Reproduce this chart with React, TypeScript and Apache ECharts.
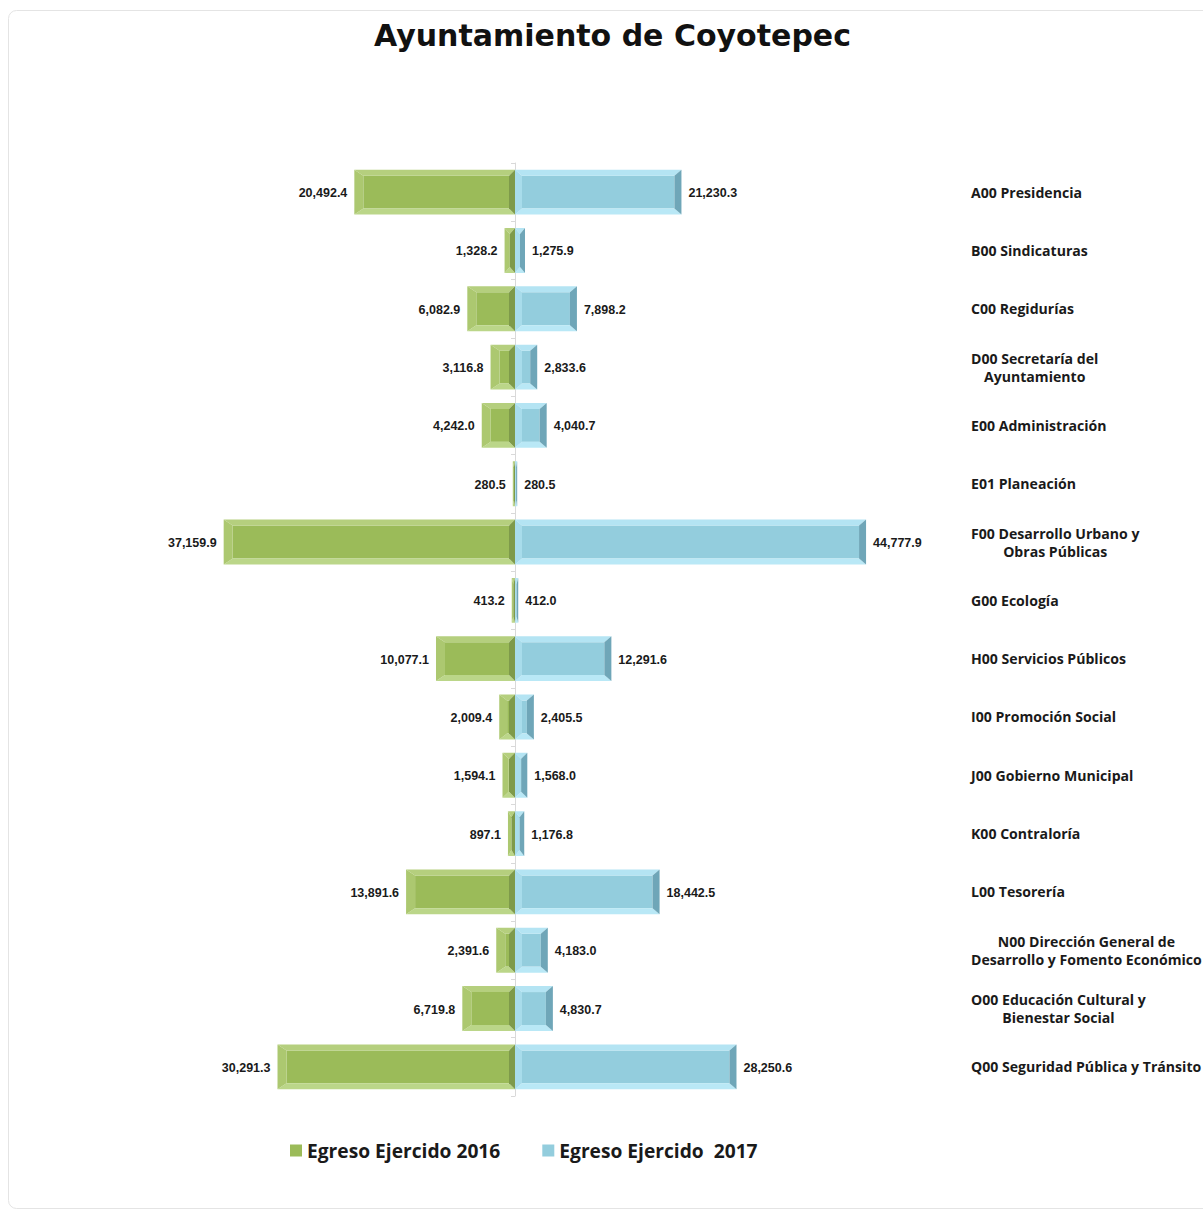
import React, { useEffect, useRef } from "react";
import * as echarts from "echarts";

const categories = [
  "A00 Presidencia",
  "B00 Sindicaturas",
  "C00 Regidurías",
  "D00 Secretaría del\nAyuntamiento",
  "E00 Administración",
  "E01 Planeación",
  "F00 Desarrollo Urbano y\nObras Públicas",
  "G00 Ecología",
  "H00 Servicios Públicos",
  "I00 Promoción Social",
  "J00 Gobierno Municipal",
  "K00 Contraloría",
  "L00 Tesorería",
  "N00 Dirección General de\nDesarrollo y Fomento Económico",
  "O00 Educación Cultural y\nBienestar Social",
  "Q00 Seguridad Pública y Tránsito",
];

const egreso2016 = [
  20492.4, 1328.2, 6082.9, 3116.8, 4242.0, 280.5, 37159.9, 413.2, 10077.1,
  2009.4, 1594.1, 897.1, 13891.6, 2391.6, 6719.8, 30291.3,
];

const egreso2017 = [
  21230.3, 1275.9, 7898.2, 2833.6, 4040.7, 280.5, 44777.9, 412.0, 12291.6,
  2405.5, 1568.0, 1176.8, 18442.5, 4183.0, 4830.7, 28250.6,
];

const seriesNames = ["Egreso Ejercido 2016", "Egreso Ejercido  2017"];
const titleText = "Ayuntamiento de Coyotepec";

const fmt = (v: number) =>
  v.toLocaleString("en-US", { minimumFractionDigits: 1, maximumFractionDigits: 1 });

type Pal = { face: string; top: string; bottom: string; left: string; right: string };

const greenPal: Pal = {
  face: "#9BBB59",
  top: "#B5CF7E",
  bottom: "#BBD689",
  left: "#ACC870",
  right: "#7E9A4A",
};
const bluePal: Pal = {
  face: "#93CDDD",
  top: "#B4E4F3",
  bottom: "#B9E8F6",
  left: "#A8DCEB",
  right: "#6FA6B8",
};

function makeRender(side: number, pal: Pal) {
  return (params: any, api: any) => {
    const cat = api.value(0);
    const val = api.value(1);
    const p0 = api.coord([0, cat]);
    const p1 = api.coord([val, cat]);
    const band = api.size([0, 1])[1];
    const h = band * 0.77;
    const xL = Math.min(p0[0], p1[0]);
    const xR = Math.max(p0[0], p1[0]);
    const w = Math.max(xR - xL, 1);
    const yT = p0[1] - h / 2;
    const yB = yT + h;
    const bx = Math.min(side < 0 ? 9 : 7, w / 2);
    const bxIn = Math.min(side < 0 ? 6 : 7, w / 2);
    const by = 6;
    const bL = side < 0 ? bx : bxIn;
    const bR = side < 0 ? bxIn : bx;
    const children: any[] = [
      {
        type: "rect",
        shape: { x: xL + bL, y: yT + by, width: Math.max(w - bL - bR, 0), height: h - 2 * by },
        style: { fill: pal.face },
      },
      {
        type: "polygon",
        shape: { points: [[xL, yT], [xL + w, yT], [xL + w - bR, yT + by], [xL + bL, yT + by]] },
        style: { fill: pal.top },
      },
      {
        type: "polygon",
        shape: { points: [[xL, yB], [xL + w, yB], [xL + w - bR, yB - by], [xL + bL, yB - by]] },
        style: { fill: pal.bottom },
      },
      {
        type: "polygon",
        shape: { points: [[xL, yT], [xL + bL, yT + by], [xL + bL, yB - by], [xL, yB]] },
        style: { fill: pal.left },
      },
      {
        type: "polygon",
        shape: { points: [[xL + w, yT], [xL + w - bR, yT + by], [xL + w - bR, yB - by], [xL + w, yB]] },
        style: { fill: pal.right },
      },
      {
        type: "text",
        x: side < 0 ? xL - 7 : xL + w + 7,
        y: p0[1] + 1,
        style: {
          text: fmt(Math.abs(val)),
          align: side < 0 ? "right" : "left",
          verticalAlign: "middle",
          fontFamily: "Liberation Sans, Arial, sans-serif",
          fontWeight: "bold",
          fontSize: 12.5,
          fill: "#1a1a1a",
        },
      },
    ];
    return { type: "group", children };
  };
}

export default function App() {
  const ref = useRef<HTMLDivElement>(null);
  useEffect(() => {
    if (!ref.current) return;
    const chart = echarts.init(ref.current, undefined, { renderer: "svg" });
    const option: any = {
      animation: false,
      backgroundColor: "#ffffff",
      title: {
        text: titleText,
        left: 369,
        top: 15,
        textStyle: {
          fontFamily: "DejaVu Sans, Verdana, sans-serif",
          fontWeight: "bold",
          fontSize: 30,
          color: "#111111",
        },
      },
      graphic: [
        {
          type: "rect",
          z: -10,
          shape: { x: 8.5, y: 10.5, width: 1260, height: 1198, r: 8 },
          style: { fill: "none", stroke: "#e4e4e4", lineWidth: 1 },
          silent: true,
        },
      ],
      legend: {
        data: seriesNames,
        left: 285,
        top: 1136,
        icon: "rect",
        itemWidth: 12,
        itemHeight: 12,
        itemGap: 42,
        textStyle: {
          fontFamily: "Open Sans, Calibri, sans-serif",
          fontWeight: "bold",
          fontSize: 19.2,
          color: "#1a1a1a",
        },
      },
      grid: {
        left: 123,
        width: 784,
        top: 163,
        height: 933,
        containLabel: false,
        outerBoundsMode: "none",
      },
      xAxis: {
        type: "value",
        min: -50000,
        max: 50000,
        show: false,
      },
      yAxis: [
        {
          type: "category",
          data: categories,
          inverse: true,
          position: "left",
          axisLine: { show: true, onZero: true, lineStyle: { color: "#d9d9d9", width: 1 } },
          axisTick: { show: true, length: 4, lineStyle: { color: "#d9d9d9" } },
          axisLabel: { show: false },
          splitLine: { show: false },
        },
        {
          type: "category",
          data: categories,
          inverse: true,
          position: "right",
          axisLine: { show: false },
          axisTick: { show: false },
          splitLine: { show: false },
          axisLabel: {
            show: true,
            margin: 64,
            align: "left",
            formatter: (v: string) =>
              v
                .split("\n")
                .map((l) => `{c|${l}}`)
                .join("\n"),
            rich: {
              c: {
                align: "center",
                fontFamily: "Open Sans, Calibri, sans-serif",
                fontWeight: "bold",
                fontSize: 14.1,
                lineHeight: 18,
                color: "#1a1a1a",
              },
            },
          },
        },
      ],
      series: [
        {
          name: seriesNames[0],
          type: "custom",
          xAxisIndex: 0,
          yAxisIndex: 0,
          itemStyle: { color: "#9BBB59" },
          encode: { x: 1, y: 0 },
          renderItem: makeRender(-1, greenPal),
          data: egreso2016.map((v, i) => [i, -v]),
          z: 3,
        },
        {
          name: seriesNames[1],
          type: "custom",
          xAxisIndex: 0,
          yAxisIndex: 0,
          itemStyle: { color: "#93CDDD" },
          encode: { x: 1, y: 0 },
          renderItem: makeRender(1, bluePal),
          data: egreso2017.map((v, i) => [i, v]),
          z: 3,
        },
      ],
    };
    chart.setOption(option);
    return () => chart.dispose();
  }, []);
  return (
    <div
      style={{
        position: "fixed",
        left: 0,
        top: 0,
        width: 1203,
        height: 1213,
        overflow: "hidden",
        background: "#fff",
      }}
    >
      <div ref={ref} style={{ width: 1203, height: 1213, overflow: "hidden" }} />
    </div>
  );
}
